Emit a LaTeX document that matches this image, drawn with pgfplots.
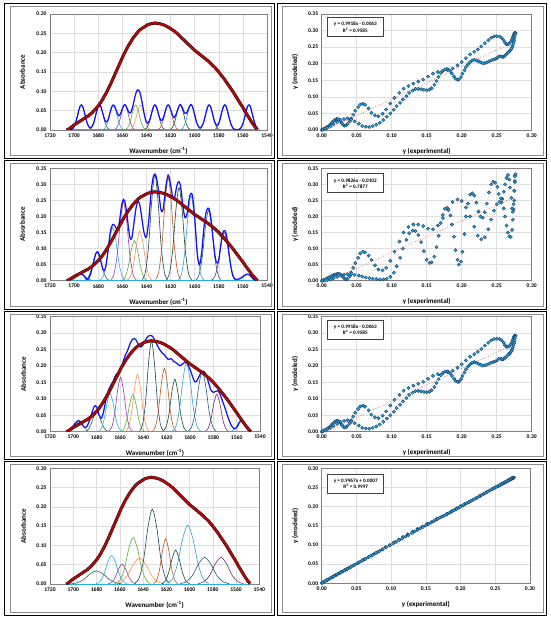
\documentclass[border=0pt]{standalone}
\usepackage{fontspec}
\setmainfont{Carlito}
\usepackage{pgfplots}
\usepackage{pgfplotstable}
\pgfplotsset{compat=1.18}

\definecolor{cRed}{RGB}{175,10,10}
\definecolor{cBlue}{RGB}{20,20,245}
\definecolor{cCyan}{RGB}{40,175,225}
\definecolor{cOlive}{RGB}{120,140,50}
\definecolor{cDkGreen}{RGB}{45,100,55}
\definecolor{cPurple}{RGB}{150,60,170}
\definecolor{cGreen}{RGB}{100,175,60}
\definecolor{cOrange}{RGB}{245,150,80}
\definecolor{cSlate}{RGB}{30,70,80}
\definecolor{cBrown}{RGB}{190,85,30}
\definecolor{cDkGreenB}{RGB}{25,75,45}
\definecolor{cLtBlue}{RGB}{45,160,210}
\definecolor{cTeal}{RGB}{30,95,115}
\definecolor{cPurpleB}{RGB}{110,45,110}
\definecolor{cDot}{RGB}{40,160,215}
\definecolor{cDotE}{RGB}{20,50,90}
\definecolor{cTrend}{RGB}{240,90,90}

\pgfplotstableread{
nu red b1 b2 b3 b4
1706 0.000 0.000 0.000 0.000 0.001
1705 0.002 0.000 0.001 0.002 0.002
1704 0.003 0.000 0.003 0.004 0.004
1703 0.006 0.001 0.005 0.007 0.007
1702 0.008 0.002 0.008 0.010 0.009
1701 0.011 0.004 0.010 0.014 0.012
1700 0.013 0.009 0.013 0.018 0.014
1699 0.015 0.016 0.015 0.023 0.016
1698 0.017 0.027 0.017 0.027 0.018
1697 0.019 0.039 0.019 0.031 0.020
1696 0.021 0.052 0.020 0.033 0.022
1695 0.023 0.062 0.021 0.033 0.024
1694 0.025 0.065 0.021 0.031 0.026
1693 0.027 0.062 0.019 0.026 0.028
1692 0.029 0.052 0.016 0.020 0.030
1691 0.031 0.039 0.010 0.015 0.032
1690 0.033 0.027 0.006 0.013 0.034
1689 0.035 0.016 0.004 0.014 0.036
1688 0.037 0.010 0.006 0.018 0.038
1687 0.040 0.006 0.014 0.026 0.041
1686 0.042 0.006 0.025 0.035 0.043
1685 0.045 0.010 0.040 0.046 0.046
1684 0.048 0.016 0.055 0.058 0.049
1683 0.052 0.027 0.071 0.069 0.053
1682 0.055 0.039 0.085 0.077 0.056
1681 0.059 0.052 0.090 0.079 0.060
1680 0.062 0.062 0.088 0.076 0.063
1679 0.067 0.065 0.078 0.065 0.068
1678 0.071 0.062 0.065 0.052 0.072
1677 0.076 0.052 0.048 0.044 0.077
1676 0.081 0.041 0.035 0.041 0.082
1675 0.087 0.030 0.032 0.049 0.088
1674 0.092 0.022 0.040 0.062 0.094
1673 0.098 0.021 0.062 0.080 0.100
1672 0.104 0.025 0.090 0.097 0.107
1671 0.111 0.035 0.122 0.112 0.114
1670 0.117 0.047 0.150 0.125 0.121
1669 0.124 0.058 0.167 0.133 0.128
1668 0.131 0.064 0.175 0.140 0.135
1667 0.138 0.064 0.175 0.146 0.142
1666 0.145 0.059 0.170 0.152 0.148
1665 0.152 0.050 0.162 0.161 0.155
1664 0.159 0.042 0.160 0.170 0.161
1663 0.166 0.037 0.172 0.175 0.168
1662 0.173 0.039 0.195 0.178 0.174
1661 0.180 0.046 0.225 0.181 0.181
1660 0.187 0.055 0.245 0.186 0.188
1659 0.194 0.063 0.253 0.195 0.195
1658 0.200 0.066 0.248 0.205 0.201
1657 0.206 0.063 0.228 0.217 0.207
1656 0.212 0.056 0.200 0.228 0.212
1655 0.218 0.048 0.168 0.236 0.218
1654 0.223 0.044 0.140 0.243 0.223
1653 0.228 0.045 0.129 0.252 0.228
1652 0.233 0.053 0.135 0.262 0.233
1651 0.238 0.065 0.160 0.271 0.238
1650 0.242 0.080 0.190 0.278 0.242
1649 0.246 0.092 0.218 0.282 0.246
1648 0.250 0.101 0.238 0.283 0.250
1647 0.254 0.104 0.246 0.282 0.253
1646 0.257 0.101 0.243 0.278 0.256
1645 0.260 0.092 0.225 0.271 0.259
1644 0.262 0.078 0.200 0.263 0.261
1643 0.264 0.061 0.172 0.259 0.263
1642 0.266 0.044 0.150 0.258 0.265
1641 0.268 0.030 0.138 0.261 0.267
1640 0.270 0.021 0.136 0.266 0.269
1639 0.272 0.018 0.158 0.273 0.271
1638 0.273 0.021 0.190 0.280 0.272
1637 0.274 0.029 0.238 0.286 0.273
1636 0.275 0.040 0.280 0.290 0.274
1635 0.276 0.052 0.310 0.292 0.275
1634 0.276 0.062 0.328 0.293 0.275
1633 0.277 0.065 0.332 0.292 0.276
1632 0.276 0.062 0.325 0.290 0.275
1631 0.276 0.053 0.307 0.284 0.275
1630 0.275 0.041 0.280 0.277 0.275
1629 0.275 0.031 0.250 0.270 0.275
1628 0.274 0.025 0.222 0.263 0.274
1627 0.273 0.025 0.215 0.256 0.273
1626 0.272 0.031 0.225 0.250 0.272
1625 0.271 0.041 0.258 0.245 0.271
1624 0.269 0.053 0.290 0.240 0.269
1623 0.268 0.062 0.315 0.237 0.268
1622 0.266 0.065 0.329 0.234 0.266
1621 0.264 0.062 0.320 0.229 0.264
1620 0.262 0.054 0.300 0.225 0.262
1619 0.260 0.044 0.277 0.221 0.260
1618 0.258 0.036 0.255 0.220 0.258
1617 0.256 0.032 0.256 0.222 0.256
1616 0.253 0.036 0.270 0.222 0.253
1615 0.251 0.044 0.292 0.218 0.251
1614 0.248 0.054 0.305 0.214 0.248
1613 0.245 0.062 0.308 0.212 0.245
1612 0.242 0.066 0.300 0.210 0.242
1611 0.239 0.063 0.275 0.207 0.239
1610 0.236 0.056 0.240 0.204 0.236
1609 0.233 0.048 0.213 0.202 0.233
1608 0.230 0.043 0.196 0.201 0.230
1607 0.227 0.043 0.200 0.204 0.227
1606 0.224 0.048 0.215 0.207 0.224
1605 0.221 0.056 0.243 0.210 0.221
1604 0.218 0.063 0.265 0.212 0.218
1603 0.215 0.066 0.272 0.210 0.215
1602 0.212 0.062 0.268 0.205 0.212
1601 0.209 0.052 0.240 0.198 0.209
1600 0.206 0.039 0.200 0.190 0.206
1599 0.204 0.027 0.145 0.180 0.204
1598 0.201 0.016 0.090 0.170 0.201
1597 0.199 0.010 0.060 0.160 0.199
1596 0.196 0.006 0.050 0.152 0.196
1595 0.194 0.006 0.065 0.152 0.194
1594 0.191 0.010 0.095 0.155 0.191
1593 0.189 0.016 0.137 0.162 0.189
1592 0.186 0.027 0.175 0.170 0.186
1591 0.184 0.039 0.203 0.177 0.184
1590 0.181 0.052 0.220 0.182 0.181
1589 0.179 0.062 0.226 0.184 0.179
1588 0.176 0.065 0.224 0.183 0.176
1587 0.173 0.062 0.205 0.179 0.174
1586 0.170 0.052 0.180 0.172 0.171
1585 0.167 0.040 0.140 0.160 0.168
1584 0.164 0.027 0.105 0.148 0.165
1583 0.161 0.018 0.075 0.136 0.162
1582 0.157 0.013 0.057 0.126 0.158
1581 0.154 0.013 0.055 0.122 0.155
1580 0.150 0.018 0.065 0.120 0.151
1579 0.146 0.027 0.092 0.121 0.147
1578 0.142 0.040 0.120 0.123 0.143
1577 0.138 0.052 0.142 0.124 0.139
1576 0.134 0.062 0.155 0.124 0.135
1575 0.130 0.065 0.156 0.119 0.131
1574 0.125 0.062 0.148 0.112 0.126
1573 0.121 0.052 0.127 0.102 0.122
1572 0.116 0.039 0.100 0.092 0.117
1571 0.112 0.027 0.071 0.082 0.113
1570 0.107 0.016 0.045 0.072 0.108
1569 0.103 0.009 0.025 0.061 0.104
1568 0.098 0.004 0.012 0.050 0.099
1567 0.093 0.002 0.006 0.040 0.094
1566 0.088 0.001 0.004 0.030 0.089
1565 0.083 0.000 0.004 0.022 0.084
1564 0.078 0.001 0.005 0.016 0.079
1563 0.073 0.002 0.006 0.012 0.074
1562 0.068 0.004 0.008 0.009 0.069
1561 0.063 0.009 0.010 0.010 0.064
1560 0.058 0.016 0.013 0.012 0.059
1559 0.053 0.027 0.016 0.019 0.054
1558 0.047 0.039 0.018 0.026 0.048
1557 0.042 0.052 0.020 0.031 0.043
1556 0.037 0.062 0.020 0.035 0.038
1555 0.032 0.065 0.019 0.033 0.033
1554 0.027 0.062 0.016 0.030 0.028
1553 0.022 0.052 0.012 0.024 0.023
1552 0.017 0.039 0.008 0.018 0.018
1551 0.013 0.027 0.004 0.012 0.014
1550 0.008 0.016 0.002 0.007 0.009
1549 0.005 0.009 0.001 0.004 0.006
1548 0.001 0.004 0.000 0.001 0.002
}\spec

\pgfplotsset{
 panel/.style={scale only axis, anchor=south west, grid=major,
   major grid style={draw=black!13, line width=0.5pt},
   axis line style={draw=black!50, line width=0.6pt},
   tick style={draw=none},
   ticklabel style={font=\bfseries\fontsize{5.6}{6.5}\selectfont},
   /pgf/number format/assume math mode=true,
   scaled ticks=false,
   label style={font=\bfseries\fontsize{7}{8}\selectfont},
   xlabel style={at={(axis description cs:0.5,0)}, anchor=center, yshift=-21pt},
   ylabel style={at={(axis description cs:-0.127,0.5)}, anchor=center},
   yticklabel style={/pgf/number format/fixed, /pgf/number format/fixed zerofill, /pgf/number format/precision=2},
   ymin=0},
 leftp/.style={panel, x dir=reverse, xmin=1540, xmax=1720,
   xtick={1540,1560,1580,1600,1620,1640,1660,1680,1700,1720},
   xticklabel style={/pgf/number format/set thousands separator={}},
   xlabel={Wavenumber (cm\textsuperscript{-1})}, ylabel={Absorbance}},
 rightp/.style={panel, xmin=0, xmax=0.3, xtick={0,0.05,0.1,0.15,0.2,0.25,0.3},
   xticklabel style={/pgf/number format/fixed, /pgf/number format/fixed zerofill, /pgf/number format/precision=2},
   xlabel={y (experimental)}, ylabel={y (modeled)}},
 ytkA/.style={ymax=0.35, ytick={0,0.05,0.1,0.15,0.2,0.25,0.3,0.35}},
 ytkB/.style={ymax=0.30, ytick={0,0.05,0.1,0.15,0.2,0.25,0.3}},
 comp/.style={smooth, line width=0.6pt, forget plot},
 bluec/.style={cBlue, smooth, line width=1.25pt, forget plot},
 redo/.style={black, smooth, line width=3pt, forget plot},
 redi/.style={cRed, smooth, line width=2.2pt, forget plot},
 base0/.style={cCyan, line width=1pt, forget plot},
 dots/.style={only marks, mark=*, mark size=1.7pt, mark options={fill=cDot, draw=cDotE, line width=0.3pt}, forget plot},
 trend/.style={cTrend, dotted, line width=0.7pt, forget plot},
}
\tikzset{eqbox/.style={draw=black!75, line width=0.8pt, fill=white, align=center,
   font=\bfseries\fontsize{5.2}{6.2}\selectfont, inner sep=2pt, minimum width=56pt, minimum height=19pt}}

\begin{document}
\begin{tikzpicture}
\path[use as bounding box] (0,0) rectangle (550pt,619pt);
\fill[white] (0,0) rectangle (550pt,619pt);

% ---------- Row 1 left ----------
\begin{axis}[leftp, ytkB, at={(50pt,489pt)}, width=217pt, height=116pt]
\addplot[comp,cOlive] coordinates {(1703,.001)(1700.75,.005)(1698.5,.021)(1696.25,.049)(1694,.065)(1691.75,.049)(1689.5,.021)(1687.25,.005)(1685,.001)};
\addplot[comp,cDkGreen] coordinates {(1688,.001)(1685.75,.005)(1683.5,.021)(1681.25,.049)(1679,.065)(1676.75,.049)(1674.5,.021)(1672.25,.005)(1670,.001)};
\addplot[comp,cCyan] coordinates {(1676.5,.001)(1674.25,.005)(1672,.021)(1669.75,.049)(1667.5,.065)(1665.25,.049)(1663,.021)(1660.75,.005)(1658.5,.001)};
\addplot[comp,cPurple] coordinates {(1667,.001)(1664.75,.005)(1662.5,.021)(1660.25,.049)(1658,.065)(1655.75,.049)(1653.5,.021)(1651.25,.005)(1649,.001)};
\addplot[comp,cGreen] coordinates {(1658,.001)(1655.75,.005)(1653.5,.021)(1651.25,.049)(1649,.065)(1646.75,.049)(1644.5,.021)(1642.25,.005)(1640,.001)};
\addplot[comp,cOrange] coordinates {(1654,.001)(1651.75,.005)(1649.5,.021)(1647.25,.049)(1645,.065)(1642.75,.049)(1640.5,.021)(1638.25,.005)(1636,.001)};
\addplot[comp,cSlate] coordinates {(1642,.001)(1639.75,.005)(1637.5,.021)(1635.25,.049)(1633,.065)(1630.75,.049)(1628.5,.021)(1626.25,.005)(1624,.001)};
\addplot[comp,cBrown] coordinates {(1631,.001)(1628.75,.005)(1626.5,.021)(1624.25,.049)(1622,.065)(1619.75,.049)(1617.5,.021)(1615.25,.005)(1613,.001)};
\addplot[comp,cDkGreenB] coordinates {(1621,.001)(1618.75,.005)(1616.5,.021)(1614.25,.049)(1612,.065)(1609.75,.049)(1607.5,.021)(1605.25,.005)(1603,.001)};
\addplot[comp,cLtBlue] coordinates {(1612,.001)(1609.75,.005)(1607.5,.021)(1605.25,.049)(1603,.065)(1600.75,.049)(1598.5,.021)(1596.25,.005)(1594,.001)};
\addplot[comp,cTeal] coordinates {(1597,.001)(1594.75,.005)(1592.5,.021)(1590.25,.049)(1588,.065)(1585.75,.049)(1583.5,.021)(1581.25,.005)(1579,.001)};
\addplot[comp,cPurpleB] coordinates {(1584,.001)(1581.75,.005)(1579.5,.021)(1577.25,.049)(1575,.065)(1572.75,.049)(1570.5,.021)(1568.25,.005)(1566,.001)};
\addplot[comp,cCyan] coordinates {(1564,.001)(1561.75,.005)(1559.5,.021)(1557.25,.049)(1555,.065)(1552.75,.049)(1550.5,.021)(1548.25,.005)(1546,.001)};
\addplot[base0] coordinates {(1706,0)(1548,0)};
\addplot[bluec] table[x=nu,y=b1]{\spec};
\addplot[redo] table[x=nu,y=red]{\spec};
\addplot[redi] table[x=nu,y=red]{\spec};
\end{axis}

% ---------- Row 1 right ----------
\begin{axis}[rightp, ytkA, at={(321.7pt,489pt)}, width=210pt, height=116pt]
\addplot[trend] coordinates {(0,-0.0063)(0.276,0.2674)};
\addplot[dots] table[x=red,y=b3]{\spec};
\node[eqbox] at (axis cs:0.048,0.31) {y = 0.9918x - 0.0063\\R\textsuperscript{2} = 0.9585};
\end{axis}

% ---------- Row 2 left ----------
\begin{axis}[leftp, ytkA, at={(50pt,338.3pt)}, width=217pt, height=112.4pt]
\addplot[comp,cOlive] coordinates {(1704.5,.000)(1701.9,.002)(1699.25,.007)(1696.6,.016)(1694,.021)(1691.4,.016)(1688.75,.007)(1686.1,.002)(1683.5,.000)};
\addplot[comp,cDkGreen] coordinates {(1691.5,.001)(1688.9,.007)(1686.25,.029)(1683.6,.066)(1681,.088)(1678.4,.066)(1675.75,.029)(1673.1,.007)(1670.5,.001)};
\addplot[comp,cCyan] coordinates {(1678.5,.002)(1675.9,.013)(1673.25,.054)(1670.6,.125)(1668,.165)(1665.4,.125)(1662.75,.054)(1660.1,.013)(1657.5,.002)};
\addplot[comp,cPurple] coordinates {(1669.5,.003)(1666.9,.020)(1664.25,.080)(1661.6,.185)(1659,.245)(1656.4,.185)(1653.75,.080)(1651.1,.020)(1648.5,.003)};
\addplot[comp,cGreen] coordinates {(1660.5,.001)(1657.9,.010)(1655.25,.041)(1652.6,.094)(1650,.125)(1647.4,.094)(1644.75,.041)(1642.1,.010)(1639.5,.001)};
\addplot[comp,cOrange] coordinates {(1656,.002)(1653.4,.012)(1650.75,.050)(1648.1,.117)(1645.5,.155)(1642.9,.117)(1640.25,.050)(1637.6,.012)(1635,.002)};
\addplot[comp,cSlate] coordinates {(1643.5,.004)(1640.9,.026)(1638.25,.107)(1635.6,.249)(1633,.330)(1630.4,.249)(1627.75,.107)(1625.1,.026)(1622.5,.004)};
\addplot[comp,cBrown] coordinates {(1632.5,.004)(1629.9,.026)(1627.25,.104)(1624.6,.242)(1622,.320)(1619.4,.242)(1616.75,.104)(1614.1,.026)(1611.5,.004)};
\addplot[comp,cDkGreenB] coordinates {(1623.5,.003)(1620.9,.023)(1618.25,.094)(1615.6,.219)(1613,.290)(1610.4,.219)(1607.75,.094)(1605.1,.023)(1602.5,.003)};
\addplot[comp,cLtBlue] coordinates {(1613.5,.003)(1610.9,.021)(1608.25,.086)(1605.6,.200)(1603,.265)(1600.4,.200)(1597.75,.086)(1595.1,.021)(1592.5,.003)};
\addplot[comp,cTeal] coordinates {(1599,.002)(1596.4,.018)(1593.75,.072)(1591.1,.166)(1588.5,.220)(1585.9,.166)(1583.25,.072)(1580.6,.018)(1578,.002)};
\addplot[comp,cPurpleB] coordinates {(1586,.002)(1583.4,.012)(1580.75,.049)(1578.1,.113)(1575.5,.150)(1572.9,.113)(1570.25,.049)(1567.6,.012)(1565,.002)};
\addplot[comp,cCyan] coordinates {(1566.5,.000)(1563.9,.002)(1561.25,.007)(1558.6,.015)(1556,.020)(1553.4,.015)(1550.75,.007)(1548.1,.002)(1545.5,.000)};
\addplot[base0] coordinates {(1706,0)(1548,0)};
\addplot[bluec] table[x=nu,y=b2]{\spec};
\addplot[redo] table[x=nu,y=red]{\spec};
\addplot[redi] table[x=nu,y=red]{\spec};
\end{axis}

% ---------- Row 2 right ----------
\begin{axis}[rightp, ytkA, at={(321.7pt,338.3pt)}, width=210pt, height=112.4pt]
\addplot[trend] coordinates {(0,-0.0102)(0.276,0.2610)};
\addplot[dots] table[x=red,y=b2]{\spec};
\node[eqbox] at (axis cs:0.048,0.303) {y = 0.9826x - 0.0102\\R\textsuperscript{2} = 0.7877};
\end{axis}

% ---------- Row 3 left ----------
\begin{axis}[leftp, ytkA, at={(50pt,187.3pt)}, width=210pt, height=115pt]
\addplot[comp,cOlive] coordinates {(1705.2,.000)(1702.65,.002)(1700.1,.010)(1697.55,.023)(1695,.030)(1692.45,.023)(1689.9,.010)(1687.35,.002)(1684.8,.000)};
\addplot[comp,cDkGreen] coordinates {(1690.2,.001)(1687.65,.005)(1685.1,.020)(1682.55,.045)(1680,.060)(1677.45,.045)(1674.9,.020)(1672.35,.005)(1669.8,.001)};
\addplot[comp,cCyan] coordinates {(1678.7,.001)(1676.15,.009)(1673.6,.038)(1671.05,.088)(1668.5,.117)(1665.95,.088)(1663.4,.038)(1660.85,.009)(1658.3,.001)};
\addplot[comp,cPurple] coordinates {(1669.7,.002)(1667.15,.013)(1664.6,.054)(1662.05,.125)(1659.5,.165)(1656.95,.125)(1654.4,.054)(1651.85,.013)(1649.3,.002)};
\addplot[comp,cGreen] coordinates {(1659.2,.001)(1656.65,.009)(1654.1,.037)(1651.55,.086)(1649,.114)(1646.45,.086)(1643.9,.037)(1641.35,.009)(1638.8,.001)};
\addplot[comp,cOrange] coordinates {(1655.2,.002)(1652.65,.014)(1650.1,.057)(1647.55,.131)(1645,.174)(1642.45,.131)(1639.9,.057)(1637.35,.014)(1634.8,.002)};
\addplot[comp,cSlate] coordinates {(1643.2,.003)(1640.65,.022)(1638.1,.090)(1635.55,.208)(1633,.276)(1630.45,.208)(1627.9,.090)(1625.35,.022)(1622.8,.003)};
\addplot[comp,cBrown] coordinates {(1632.2,.002)(1629.65,.015)(1627.1,.063)(1624.55,.146)(1622,.193)(1619.45,.146)(1616.9,.063)(1614.35,.015)(1611.8,.002)};
\addplot[comp,cDkGreenB] coordinates {(1623.2,.002)(1620.65,.013)(1618.1,.052)(1615.55,.121)(1613,.160)(1610.45,.121)(1607.9,.052)(1605.35,.013)(1602.8,.002)};
\addplot[comp,cLtBlue] coordinates {(1615,.002)(1612,.017)(1609,.069)(1606,.159)(1603,.211)(1600,.159)(1597,.069)(1594,.017)(1591,.002)};
\addplot[comp,cTeal] coordinates {(1601.5,.002)(1598.5,.015)(1595.5,.059)(1592.5,.138)(1589.5,.183)(1586.5,.138)(1583.5,.059)(1580.5,.015)(1577.5,.002)};
\addplot[comp,cPurpleB] coordinates {(1587.2,.001)(1584.65,.009)(1582.1,.037)(1579.55,.086)(1577,.114)(1574.45,.086)(1571.9,.037)(1569.35,.009)(1566.8,.001)};
\addplot[comp,cCyan] coordinates {(1566.2,.000)(1563.65,.003)(1561.1,.011)(1558.55,.026)(1556,.035)(1553.45,.026)(1550.9,.011)(1548.35,.003)(1545.8,.000)};
\addplot[base0] coordinates {(1706,0)(1548,0)};
\addplot[bluec] table[x=nu,y=b3]{\spec};
\addplot[redo] table[x=nu,y=red]{\spec};
\addplot[redi] table[x=nu,y=red]{\spec};
\end{axis}

% ---------- Row 3 right ----------
\begin{axis}[rightp, ytkA, at={(321.7pt,187.3pt)}, width=210pt, height=115pt]
\addplot[trend] coordinates {(0,-0.0063)(0.276,0.2674)};
\addplot[dots] table[x=red,y=b3]{\spec};
\node[eqbox] at (axis cs:0.048,0.31) {y = 0.9918x - 0.0063\\R\textsuperscript{2} = 0.9585};
\end{axis}

% ---------- Row 4 left ----------
\begin{axis}[leftp, ytkB, at={(50pt,35pt)}, width=209.3pt, height=115.7pt]
\addplot[comp,cDkGreen] coordinates {(1702.5,.000)(1696.9,.003)(1691.25,.011)(1685.6,.026)(1680,.034)(1674.4,.026)(1668.75,.011)(1663.1,.003)(1657.5,.000)};
\addplot[comp,cCyan] coordinates {(1680.5,.001)(1677.1,.006)(1673.75,.024)(1670.4,.056)(1667,.074)(1663.6,.056)(1660.25,.024)(1656.9,.006)(1653.5,.001)};
\addplot[comp,cPurple] coordinates {(1670,.001)(1667,.004)(1664,.017)(1661,.039)(1658,.052)(1655,.039)(1652,.017)(1649,.004)(1646,.001)};
\addplot[comp,cGreen] coordinates {(1663.5,.001)(1659.75,.010)(1656,.039)(1652.25,.091)(1648.5,.121)(1644.75,.091)(1641,.039)(1637.25,.010)(1633.5,.001)};
\addplot[comp,cOrange] coordinates {(1664,.001)(1658.75,.005)(1653.5,.022)(1648.25,.051)(1643,.067)(1637.75,.051)(1632.5,.022)(1627.25,.005)(1622,.001)};
\addplot[comp,cSlate] coordinates {(1647,.002)(1643.25,.016)(1639.5,.063)(1635.75,.147)(1632,.194)(1628.25,.147)(1624.5,.063)(1620.75,.016)(1617,.002)};
\addplot[comp,cBrown] coordinates {(1631,.001)(1628.4,.009)(1625.75,.038)(1623.1,.088)(1620.5,.117)(1617.9,.088)(1615.25,.038)(1612.6,.009)(1610,.001)};
\addplot[comp,cDkGreenB] coordinates {(1624,.001)(1621,.007)(1618,.029)(1615,.066)(1612,.088)(1609,.066)(1606,.029)(1603,.007)(1600,.001)};
\addplot[comp,cLtBlue] coordinates {(1619.5,.002)(1615,.012)(1610.5,.050)(1606,.116)(1601.5,.153)(1597,.116)(1592.5,.050)(1588,.012)(1583.5,.002)};
\addplot[comp,cTeal] coordinates {(1608,.001)(1602.75,.006)(1597.5,.022)(1592.25,.052)(1587,.069)(1581.75,.052)(1576.5,.022)(1571.25,.006)(1566,.001)};
\addplot[comp,cPurpleB] coordinates {(1592.5,.001)(1587.6,.006)(1582.75,.022)(1577.9,.052)(1573,.069)(1568.1,.052)(1563.25,.022)(1558.4,.006)(1553.5,.001)};
\addplot[base0] coordinates {(1706,0)(1548,0)};
\addplot[bluec] table[x=nu,y=b4]{\spec};
\addplot[redo] table[x=nu,y=red]{\spec};
\addplot[redi] table[x=nu,y=red]{\spec};
\end{axis}

% ---------- Row 4 right ----------
\begin{axis}[rightp, ytkB, at={(321.7pt,35.7pt)}, width=208.3pt, height=115pt]
\addplot[trend] coordinates {(0,0.0007)(0.276,0.2758)};
\addplot[dots] table[x=red,y=b4]{\spec};
\node[eqbox] at (axis cs:0.049,0.26) {y = 0.9967x + 0.0007\\R\textsuperscript{2} = 0.9997};
\end{axis}

% ---------- frames ----------
\foreach \yb/\yt in {461/616, 310/459, 160/308, 4/158}{
  \draw[black, line width=0.9pt] (4pt,\yb pt) rectangle (274pt,\yt pt);
  \draw[black, line width=0.9pt] (277pt,\yb pt) rectangle (546pt,\yt pt);
  \draw[black!45, line width=0.6pt] (10pt,\yb pt+3pt) rectangle (271pt,\yt pt-3pt);
  \draw[black!45, line width=0.6pt] (282pt,\yb pt+3pt) rectangle (543pt,\yt pt-3pt);
}
\end{tikzpicture}
\end{document}
